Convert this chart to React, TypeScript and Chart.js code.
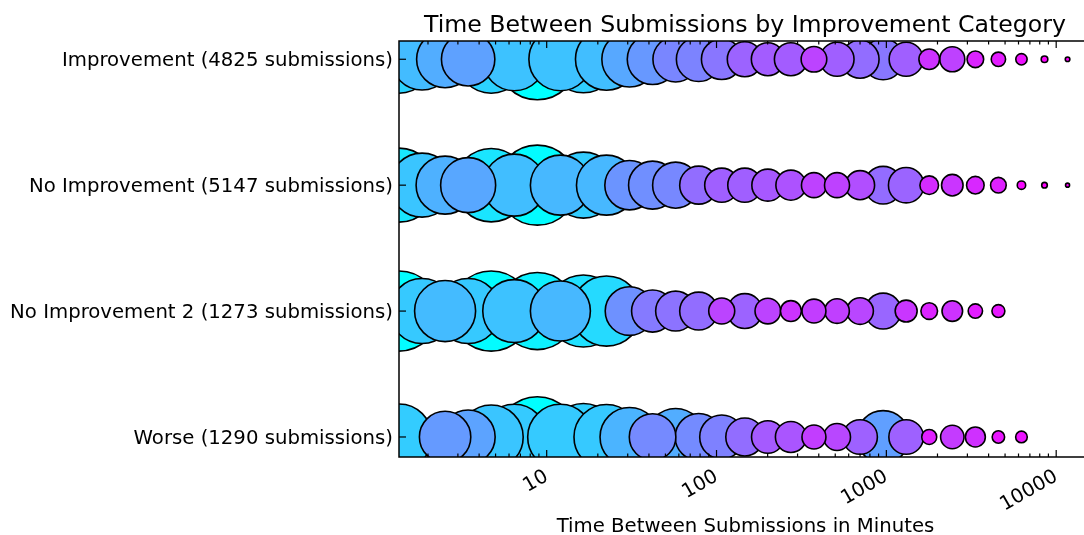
import React, { useEffect, useRef } from "react";
import { Chart, registerables } from "chart.js";

Chart.register(...registerables);

// ---- data -------------------------------------------------------------
const TITLE = "Time Between Submissions by Improvement Category";
const X_AXIS_TITLE = "Time Between Submissions in Minutes";

// bottom -> top
const CATEGORIES = [
  "Worse (1290 submissions)",
  "No Improvement 2 (1273 submissions)",
  "No Improvement (5147 submissions)",
  "Improvement (4825 submissions)",
];

// log-spaced bins (minutes)
const BIN_MINUTES = [
  1.35, 1.845, 2.522, 3.447, 4.712, 6.441, 8.804, 12.04, 16.45, 22.49,
  30.74, 42.02, 57.44, 78.51, 107.3, 146.7, 200.5, 274.1, 374.7, 512.2,
  700.2, 957.1, 1308, 1788, 2445, 3342, 4568, 6244, 8535, 11667,
];

// share of the category's submissions (%) falling in each bin
const SHARE_IMPROVEMENT = [
  7.18, 5.85, 5.04, 4.43, 7.18, 6.16, 10.19, 6.16, 6.97, 5.97,
  4.76, 3.98, 3.2, 3.09, 2.56, 1.9, 1.69, 1.69, 1.02, 1.8,
  2.24, 2.61, 1.8, 0.66, 0.97, 0.43, 0.32, 0.2, 0.068, 0.033,
];
const SHARE_NO_IMPROVEMENT = [
  8.5, 6.36, 5.22, 4.7, 8.37, 5.97, 9.94, 5.59, 6.76, 5.59,
  3.79, 3.58, 3.29, 2.24, 1.8, 1.8, 1.59, 1.4, 0.97, 0.97,
  1.31, 2.2, 1.95, 0.54, 0.72, 0.48, 0.38, 0.11, 0.049, 0.025,
];
const SHARE_NO_IMPROVEMENT_2 = [
  9.94, 6.56, 5.78, 6.56, 9.94, 6.16, 9.21, 5.59, 8.05, 7.61,
  3.67, 2.74, 2.48, 2.24, 1.05, 1.9, 1.02, 0.68, 0.89, 0.94,
  1.1, 2.01, 0.75, 0.43, 0.66, 0.32, 0.26, null, null, null,
];
const SHARE_WORSE = [
  6.76, null, 4.1, 4.53, 6.36, 6.64, 10.09, 6.64, 6.97, 6.56,
  5.4, 3.37, 5.04, 3.43, 3.01, 2.24, 1.65, 1.49, 0.89, 1.13,
  1.86, 4.3, 1.86, 0.35, 0.85, 0.62, 0.24, 0.21, null, null,
];

const X_TICK_LABELS = [10, 100, 1000, 10000];
const X_MIN = 1.35;
const X_MAX = 14580;

// ---- styling helpers ---------------------------------------------------
const FONT = "DejaVu Sans";
const AREA_SCALE = 161; // px^2 per percent
const R_MIN = 3;
const R_MAX = 40.5;

function radiusOf(share: number) {
  return Math.sqrt(share * AREA_SCALE);
}

function coolColor(r: number) {
  const t = Math.min(1, Math.max(0, (r - R_MIN) / (R_MAX - R_MIN)));
  const R = Math.round(255 * (1 - t));
  const G = Math.round(255 * t);
  return `rgb(${R},${G},255)`;
}

const ROWS = [SHARE_WORSE, SHARE_NO_IMPROVEMENT_2, SHARE_NO_IMPROVEMENT, SHARE_IMPROVEMENT];

const framePlugin = {
  id: "frame",
  afterDraw(chart: any) {
    const { ctx, chartArea: a, scales } = chart;
    ctx.save();
    ctx.strokeStyle = "#000";
    ctx.lineWidth = 1.5;
    ctx.beginPath();
    ctx.moveTo(a.right + 20, a.top);
    ctx.lineTo(a.left, a.top);
    ctx.lineTo(a.left, a.bottom);
    ctx.lineTo(a.right + 20, a.bottom);
    ctx.stroke();

    ctx.lineWidth = 1.2;
    for (const t of scales.x.ticks) {
      const px = scales.x.getPixelForValue(t.value);
      if (px <= a.left + 1 || px > a.right) continue;
      const len = t.major ? 7 : 3.5;
      ctx.beginPath();
      ctx.moveTo(px, a.bottom);
      ctx.lineTo(px, a.bottom - len);
      ctx.moveTo(px, a.top);
      ctx.lineTo(px, a.top + len);
      ctx.stroke();
    }
    for (const t of scales.y.ticks) {
      const py = scales.y.getPixelForValue(t.value);
      ctx.beginPath();
      ctx.moveTo(a.left, py);
      ctx.lineTo(a.left + 7, py);
      ctx.stroke();
    }

    ctx.fillStyle = "#000";
    ctx.textAlign = "center";
    ctx.textBaseline = "alphabetic";
    ctx.font = `23.64px "${FONT}"`;
    ctx.fillText(TITLE, 745, 32);
    ctx.font = `19.7px "${FONT}"`;
    ctx.fillText(X_AXIS_TITLE, 745.5, 532);
    ctx.restore();
  },
};

export default function App() {
  const canvasRef = useRef<HTMLCanvasElement | null>(null);

  useEffect(() => {
    const canvas = canvasRef.current;
    if (!canvas) return;

    const datasets = ROWS.map((shares, rowIndex) => {
      const pts: any[] = [];
      shares.forEach((s, k) => {
        if (s == null) return;
        pts.push({ x: BIN_MINUTES[k], y: rowIndex, r: radiusOf(s), share: s });
      });
      pts.sort((p, q) => q.share - p.share);
      return {
        label: CATEGORIES[rowIndex],
        data: pts,
        backgroundColor: (c: any) => coolColor(c.raw ? c.raw.r : 0),
        borderColor: "#000",
        borderWidth: 1.6,
        clip: 0,
      };
    });

    const chart = new Chart(canvas, {
      type: "bubble",
      data: { datasets },
      options: {
        responsive: false,
        animation: false,
        devicePixelRatio: 1,
        layout: { autoPadding: false, padding: { top: 41, left: 0, right: 0, bottom: 0 } },
        plugins: {
          legend: { display: false },
          tooltip: { enabled: false },
          title: { display: false },
        },
        scales: {
          x: {
            type: "logarithmic",
            min: X_MIN,
            max: X_MAX,
            grid: { display: false, drawTicks: false },
            border: { display: false },
            afterBuildTicks: (s: any) => {
              const ticks: any[] = [];
              for (let e = 0; e <= 4; e++) {
                for (let m = 1; m <= 9; m++) {
                  const v = m * Math.pow(10, e);
                  if (v > X_MIN && v < X_MAX) ticks.push({ value: v, major: m === 1 });
                }
              }
              s.ticks = ticks;
            },
            afterFit: (s: any) => {
              s.height = 78;
              s.paddingLeft = 0;
              s.paddingRight = 0;
            },
            ticks: {
              autoSkip: false,
              minRotation: 30,
              maxRotation: 30,
              padding: 8,
              color: "#000",
              font: { family: FONT, size: 19.7 },
              callback: (v: any) => (X_TICK_LABELS.includes(Number(v)) ? String(v) : ""),
            },
          },
          y: {
            type: "linear",
            min: -0.159,
            max: 3.145,
            grid: { display: false, drawTicks: false },
            border: { display: false },
            afterBuildTicks: (s: any) => {
              s.ticks = CATEGORIES.map((_, i) => ({ value: i }));
            },
            afterFit: (s: any) => {
              s.width = 399;
              s.paddingTop = 0;
              s.paddingBottom = 0;
            },
            ticks: {
              padding: 6,
              labelOffset: 1.5,
              color: "#000",
              font: { family: FONT, size: 19.7 },
              callback: (v: any) => CATEGORIES[Number(v)] ?? "",
            },
          },
        },
      },
      plugins: [framePlugin],
    } as any);

    return () => chart.destroy();
  }, []);

  return (
    <div style={{ position: "absolute", left: 0, top: 0, width: 1084, height: 535, background: "#fff" }}>
      <canvas ref={canvasRef} width={1084} height={535} style={{ width: 1084, height: 535, display: "block" }} />
    </div>
  );
}
